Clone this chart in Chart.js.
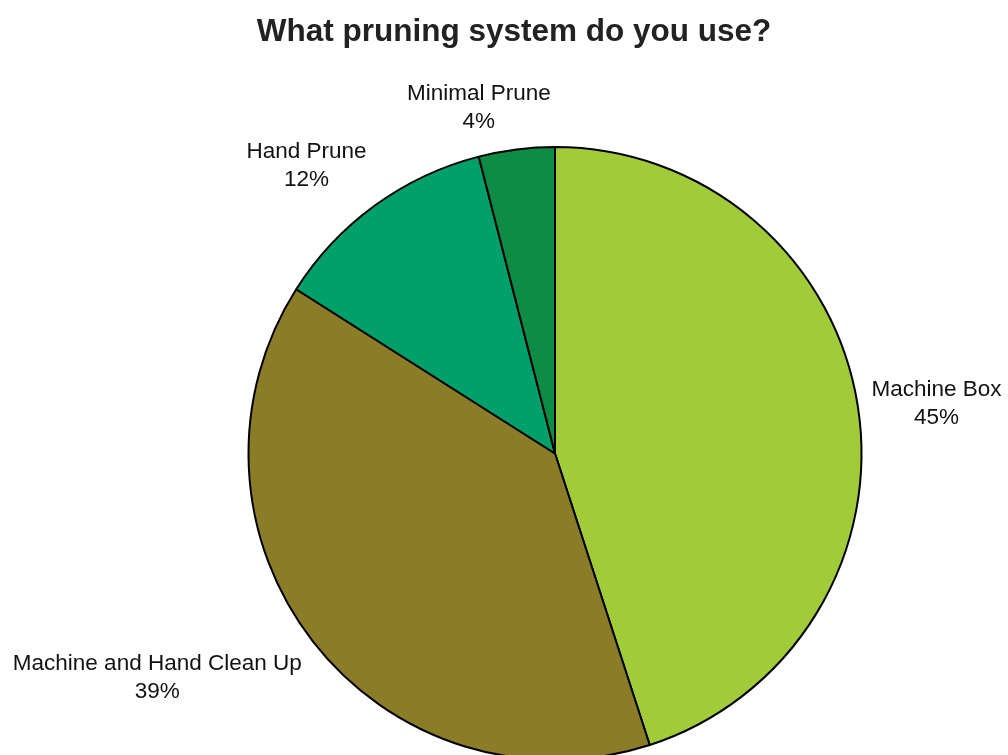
<!DOCTYPE html>
<html>
<head>
<meta charset="utf-8">
<title>What pruning system do you use?</title>
<script src="https://cdn.jsdelivr.net/npm/chart.js@4"></script>
<style>
    html, body { margin: 0; padding: 0; background: #fff; overflow: hidden; }
    canvas { display: block; }
</style>
</head>
<body>
<canvas id="pruning-chart" width="1008" height="765"></canvas>
<script>
const categories = ['Machine Box', 'Machine and Hand Clean Up', 'Hand Prune', 'Minimal Prune'];
const shares = [45, 39, 12, 4];
const sliceColors = ['#a2cb3a', '#8b7d28', '#00a06a', '#0e8b44'];
const chartTitle = 'What pruning system do you use?';

const clamp = (v) => Math.max(-1, Math.min(1, v));

// title plus two-line labels outside each slice
const sliceLabels = {
    id: 'sliceLabels',
    afterDatasetsDraw(chart) {
        const ctx = chart.ctx;
        ctx.save();
        ctx.fillStyle = '#222';
        ctx.font = 'bold 31.5px "Liberation Sans", Arial, sans-serif';
        ctx.textAlign = 'center';
        ctx.textBaseline = 'alphabetic';
        ctx.fillText(chartTitle, 514, 41);

        ctx.fillStyle = '#111';
        ctx.font = '22.5px "Liberation Sans", Arial, sans-serif';
        ctx.textBaseline = 'middle';
        const lineH = 28;
        chart.getDatasetMeta(0).data.forEach((arc, i) => {
            const p = arc.getProps(['x', 'y', 'startAngle', 'endAngle', 'outerRadius'], true);
            const mid = (p.startAngle + p.endAngle) / 2;
            const dx = Math.cos(mid), dy = Math.sin(mid);
            const ax = p.x + (p.outerRadius + 14) * dx;
            const ay = p.y + (p.outerRadius + 14) * dy;
            const lines = [categories[i], shares[i] + '%'];
            const w = Math.max(...lines.map(t => ctx.measureText(t).width));
            const h = lineH * lines.length;
            // near the top/bottom the label stays centred, at the sides it hangs off its corner
            const cx = ax + (w / 2) * clamp(dx * 4);
            const cy = ay + (h / 2) * Math.sign(dy) * clamp(Math.max(0, Math.abs(dy) - 0.2) * 2.5);
            lines.forEach((t, k) => {
                ctx.fillText(t, cx, cy - h / 2 + lineH * (k + 0.5));
            });
        });
        ctx.restore();
    }
};

new Chart(document.getElementById('pruning-chart').getContext('2d'), {
    type: 'pie',
    data: {
        labels: categories,
        datasets: [{
            data: shares,
            backgroundColor: sliceColors,
            borderColor: '#000',
            borderWidth: 2,
            hoverOffset: 0
        }]
    },
    options: {
        responsive: false,
        animation: false,
        events: [],
        layout: {
            padding: { top: 146, bottom: 4, left: 102, right: 0 }
        },
        plugins: {
            legend: { display: false },
            tooltip: { enabled: false },
            title: { display: false }
        }
    },
    plugins: [sliceLabels]
});
</script>
</body>
</html>
